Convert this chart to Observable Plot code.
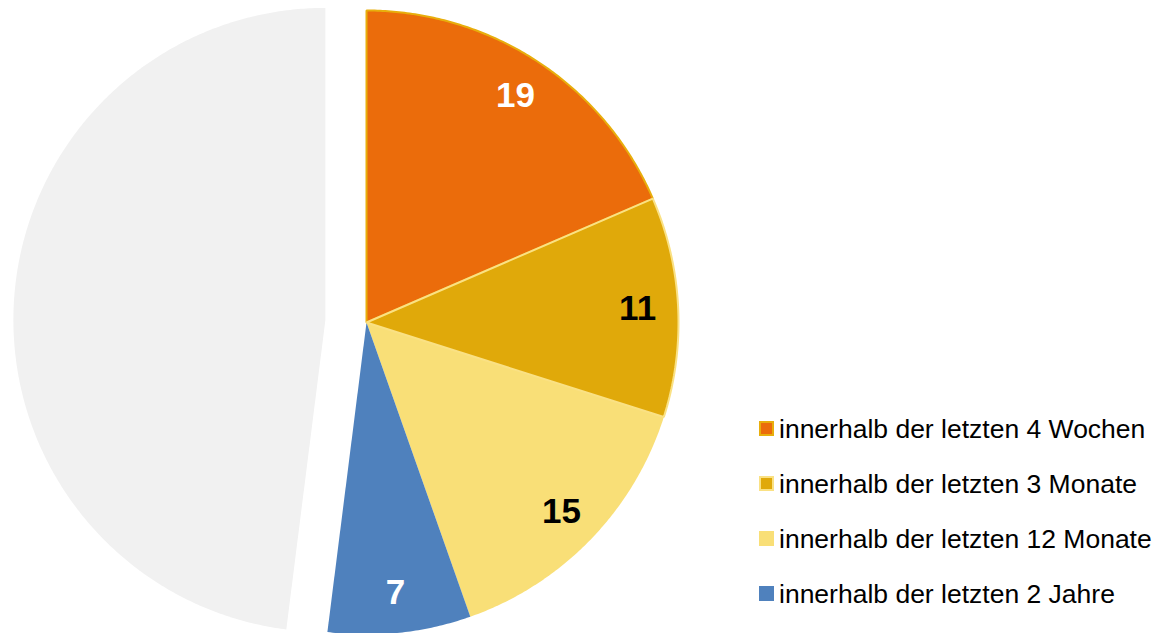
<!DOCTYPE html>
<html>
<head>
<meta charset="utf-8">
<script src="https://cdn.jsdelivr.net/npm/d3@7"></script>
<script src="https://cdn.jsdelivr.net/npm/@observablehq/plot@0.6"></script>
<style>
  html, body { margin: 0; padding: 0; background: #fff; }
  #wrap { position: relative; width: 1158px; height: 633px; overflow: hidden; font-family: "Liberation Sans", Arial, sans-serif; }
  #legend { position: absolute; left: 759px; top: 401px; }
  .row { display: flex; align-items: center; height: 55px; }
  .sw { width: 11px; height: 11px; margin-right: 5px; border: 2px solid transparent; }
  .lab { font-size: 26.5px; color: #000; white-space: nowrap; line-height: 30px; }
</style>
</head>
<body>
<div id="wrap"><div id="chart"></div><div id="legend"></div></div>
<script>
// ---- data ----
const categories = [
  "innerhalb der letzten 4 Wochen",
  "innerhalb der letzten 3 Monate",
  "innerhalb der letzten 12 Monate",
  "innerhalb der letzten 2 Jahre"
];
const values = [18.5, 11.4, 14.7, 7.4];   // shown rounded: 19, 11, 15, 7
const restValue = 48.0;                    // unlabeled remainder (grey, exploded)
const fillColors = ["#EB6C0B", "#E0A90A", "#F9DF77", "#4F81BD"];
const strokeColors = ["#E8AE0C", "#FAE184", null, null];
const restColor = "#F1F1F1";
const labelColors = ["#ffffff", "#000000", "#000000", "#ffffff"];

// ---- geometry (unit radius, angles clockwise from 12 o'clock) ----
const slices = categories.map((c, i) => ({key: c, value: values[i], fill: fillColors[i], stroke: strokeColors[i], label: labelColors[i], explode: 0}));
slices.push({key: "Rest", value: restValue, fill: restColor, stroke: null, label: null, explode: 0.132});
const pie = d3.pie().sort(null).value(d => d.value).startAngle(0).endAngle(2 * Math.PI)(slices);

const points = [];
pie.forEach(p => {
  const d = p.data;
  const mid = (p.startAngle + p.endAngle) / 2;
  const ox = d.explode * Math.sin(mid), oy = d.explode * Math.cos(mid);
  points.push({key: d.key, fill: d.fill, x: ox, y: oy});
  const n = Math.max(2, Math.ceil((p.endAngle - p.startAngle) / (Math.PI / 360)));
  for (let k = 0; k <= n; k++) {
    const a = p.startAngle + (p.endAngle - p.startAngle) * k / n;
    points.push({key: d.key, fill: d.fill, x: ox + Math.sin(a), y: oy + Math.cos(a)});
  }
});
const labelR = 0.87;
const labels = pie.filter(p => p.data.label).map(p => {
  const mid = (p.startAngle + p.endAngle) / 2;
  return {text: String(Math.round(p.data.value)), color: p.data.label, x: labelR * Math.sin(mid), y: labelR * Math.cos(mid)};
});
const strokedKeys = new Set(slices.filter(s => s.stroke).map(s => s.key));
const strokePts = points.filter(p => strokedKeys.has(p.key)).map(p => ({...p, stroke: slices.find(s => s.key === p.key).stroke}));

const R = 312; // pixels per unit radius
const chart = Plot.plot({
  width: 1158, height: 633,
  margin: 0,
  x: {domain: [-366 / R, (1158 - 366) / R], axis: null},
  y: {domain: [-(633 - 322) / R, 322 / R], axis: null},
  color: {type: "identity"},
  marks: [
    Plot.line(points, {x: "x", y: "y", z: "key", fill: "fill", stroke: "none", curve: "linear-closed"}),
    Plot.line(strokePts, {x: "x", y: "y", z: "key", stroke: "stroke", strokeWidth: 2, fill: "none", curve: "linear-closed", strokeLinejoin: "miter"}),
    Plot.text(labels, {x: "x", y: "y", text: "text", fill: "color", fontSize: 35, fontWeight: "bold", fontFamily: "Liberation Sans, Arial, sans-serif"})
  ]
});
document.getElementById("chart").appendChild(chart);

// ---- legend ----
const legend = document.getElementById("legend");
categories.forEach((c, i) => {
  const row = document.createElement("div");
  row.className = "row";
  const sw = document.createElement("div");
  sw.className = "sw";
  sw.style.background = fillColors[i];
  sw.style.borderColor = strokeColors[i] || fillColors[i];
  const lab = document.createElement("div");
  lab.className = "lab";
  lab.textContent = c;
  row.appendChild(sw); row.appendChild(lab);
  legend.appendChild(row);
});
</script>
</body>
</html>
